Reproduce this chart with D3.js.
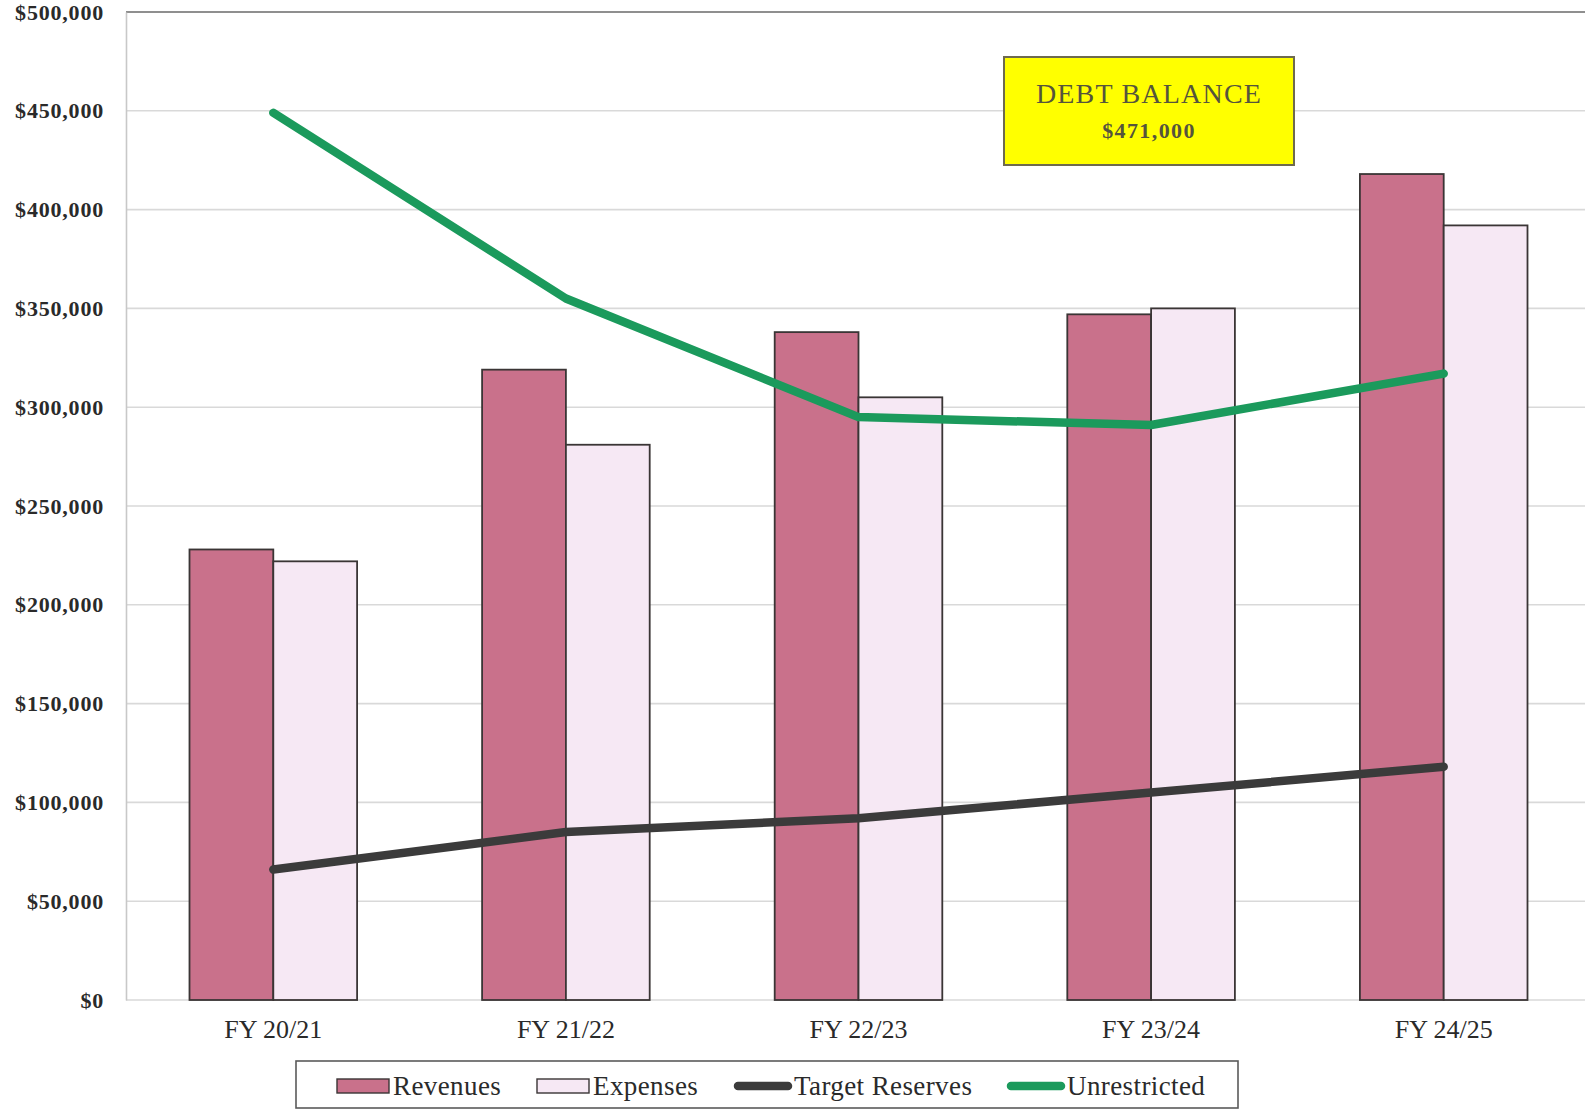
<!DOCTYPE html>
<html>
<head>
<meta charset="utf-8">
<script src="https://cdn.jsdelivr.net/npm/d3@7"></script>
<style>
  html, body { margin: 0; padding: 0; background: #fff; }
  svg { display: block; }
  text { font-family: "Liberation Serif", "DejaVu Serif", serif; }
</style>
</head>
<body>
<svg id="chart" width="1585" height="1110"></svg>
<script>
// Fiscal years on the x axis
const categories = ["FY 20/21", "FY 21/22", "FY 22/23", "FY 23/24", "FY 24/25"];

// Annual totals in dollars
const revenues       = [228000, 319000, 338000, 347000, 418000];
const expenses       = [222000, 281000, 305000, 350000, 392000];
const targetReserves = [66000, 85000, 92000, 105000, 118000];
const unrestricted   = [449000, 355000, 295000, 291000, 317000];

// Value axis ticks
const yTicks = [0, 50000, 100000, 150000, 200000, 250000, 300000, 350000, 400000, 450000, 500000];

// Callout box
const debtTitle = "DEBT BALANCE";
const debtAmount = 471000;

const legendItems = [
  { name: "Revenues", kind: "bar", color: "#c9718b" },
  { name: "Expenses", kind: "bar", color: "#f6e8f4" },
  { name: "Target Reserves", kind: "line", color: "#3b3b3b" },
  { name: "Unrestricted", kind: "line", color: "#1b9a5c" }
];

const svg = d3.select("#chart");
const plot = { left: 126, right: 1585, top: 12, bottom: 1000 };

const x = d3.scaleBand().domain(categories).range([127, 1590]).padding(0);
const sub = d3.scaleBand().domain(["rev", "exp"])
  .range([62.5, x.bandwidth() - 62.5]).padding(0);
const y = d3.scaleLinear().domain([0, 500000]).range([plot.bottom, plot.top]);

const money = d => "$" + d3.format(",")(d);

// Horizontal gridlines
const grid = svg.append("g");
grid.selectAll("line").data(yTicks).join("line")
  .attr("x1", plot.left).attr("x2", plot.right)
  .attr("y1", d => y(d)).attr("y2", d => y(d))
  .attr("stroke", d => d === 500000 ? "#6a6a6a" : "#d9d9d9")
  .attr("stroke-width", 1.6);

// Left axis with dollar labels
const yAxis = d3.axisLeft(y).tickValues(yTicks).tickFormat(money).tickSize(0).tickPadding(22);
const yg = svg.append("g").attr("transform", `translate(${plot.left},0)`).call(yAxis);
yg.select(".domain").attr("stroke", "#c8c8c8").attr("stroke-width", 1.6);
yg.selectAll("text")
  .attr("font-size", 22).attr("font-weight", "bold")
  .attr("letter-spacing", 0.8)
  .attr("fill", "#2a2a2a");

// Bottom axis with fiscal year labels
const xAxis = d3.axisBottom(x).tickSize(0).tickPadding(20);
const xg = svg.append("g").attr("transform", `translate(0,${plot.bottom})`).call(xAxis);
xg.select(".domain").remove();
xg.selectAll("text").attr("font-size", 26).attr("fill", "#2a2a2a");

// Grouped bars
const groups = svg.append("g").selectAll("g").data(categories).join("g")
  .attr("transform", d => `translate(${x(d)},0)`);

groups.append("rect")
  .attr("x", sub("rev")).attr("width", sub.bandwidth())
  .attr("y", (d, i) => y(revenues[i]))
  .attr("height", (d, i) => y(0) - y(revenues[i]))
  .attr("fill", legendItems[0].color)
  .attr("stroke", "#3a3535").attr("stroke-width", 1.8);

groups.append("rect")
  .attr("x", sub("exp")).attr("width", sub.bandwidth())
  .attr("y", (d, i) => y(expenses[i]))
  .attr("height", (d, i) => y(0) - y(expenses[i]))
  .attr("fill", legendItems[1].color)
  .attr("stroke", "#3a3535").attr("stroke-width", 1.8);

// Reserve lines, anchored at each group's centre
const cx = c => x(c) + x.bandwidth() / 2;
const line = d3.line().x((d, i) => cx(categories[i])).y(d => y(d));

svg.append("path").datum(targetReserves)
  .attr("d", line).attr("fill", "none")
  .attr("stroke", legendItems[2].color).attr("stroke-width", 8.5)
  .attr("stroke-linecap", "round").attr("stroke-linejoin", "round");

svg.append("path").datum(unrestricted)
  .attr("d", line).attr("fill", "none")
  .attr("stroke", legendItems[3].color).attr("stroke-width", 8.5)
  .attr("stroke-linecap", "round").attr("stroke-linejoin", "round");

// Debt balance callout
const box = svg.append("g").attr("transform", "translate(1004,57)");
box.append("rect").attr("width", 290).attr("height", 108)
  .attr("fill", "#ffff00").attr("stroke", "#6e6a4e").attr("stroke-width", 2);
box.append("text").attr("x", 145).attr("y", 46).attr("text-anchor", "middle")
  .attr("font-size", 28).attr("letter-spacing", 1.2).attr("fill", "#55543c")
  .text(debtTitle);
box.append("text").attr("x", 145).attr("y", 81).attr("text-anchor", "middle")
  .attr("font-size", 22).attr("font-weight", "bold").attr("letter-spacing", 1.4)
  .attr("fill", "#55543c")
  .text(money(debtAmount));

// Legend
const legend = svg.append("g");
legend.append("rect").attr("x", 296).attr("y", 1061).attr("width", 942).attr("height", 47)
  .attr("fill", "#fff").attr("stroke", "#5a5a5a").attr("stroke-width", 1.6);

const legendX = [337, 537, 734, 1007];
const ly = 1086;
legendItems.forEach((item, i) => {
  const g = legend.append("g").attr("transform", `translate(${legendX[i]},${ly})`);
  if (item.kind === "bar") {
    g.append("rect").attr("x", 0).attr("y", -7).attr("width", 52).attr("height", 14)
      .attr("fill", item.color).attr("stroke", "#3a3535").attr("stroke-width", 1.4);
    g.append("text").attr("x", 56).attr("y", 9).attr("font-size", 27)
      .attr("letter-spacing", 0.4).attr("fill", "#2a2a2a").text(item.name);
  } else {
    g.append("line").attr("x1", 4).attr("x2", 54).attr("y1", 0).attr("y2", 0)
      .attr("stroke", item.color).attr("stroke-width", 8.5).attr("stroke-linecap", "round");
    g.append("text").attr("x", 60).attr("y", 9).attr("font-size", 27)
      .attr("letter-spacing", 0.4).attr("fill", "#2a2a2a").text(item.name);
  }
});
</script>
</body>
</html>
